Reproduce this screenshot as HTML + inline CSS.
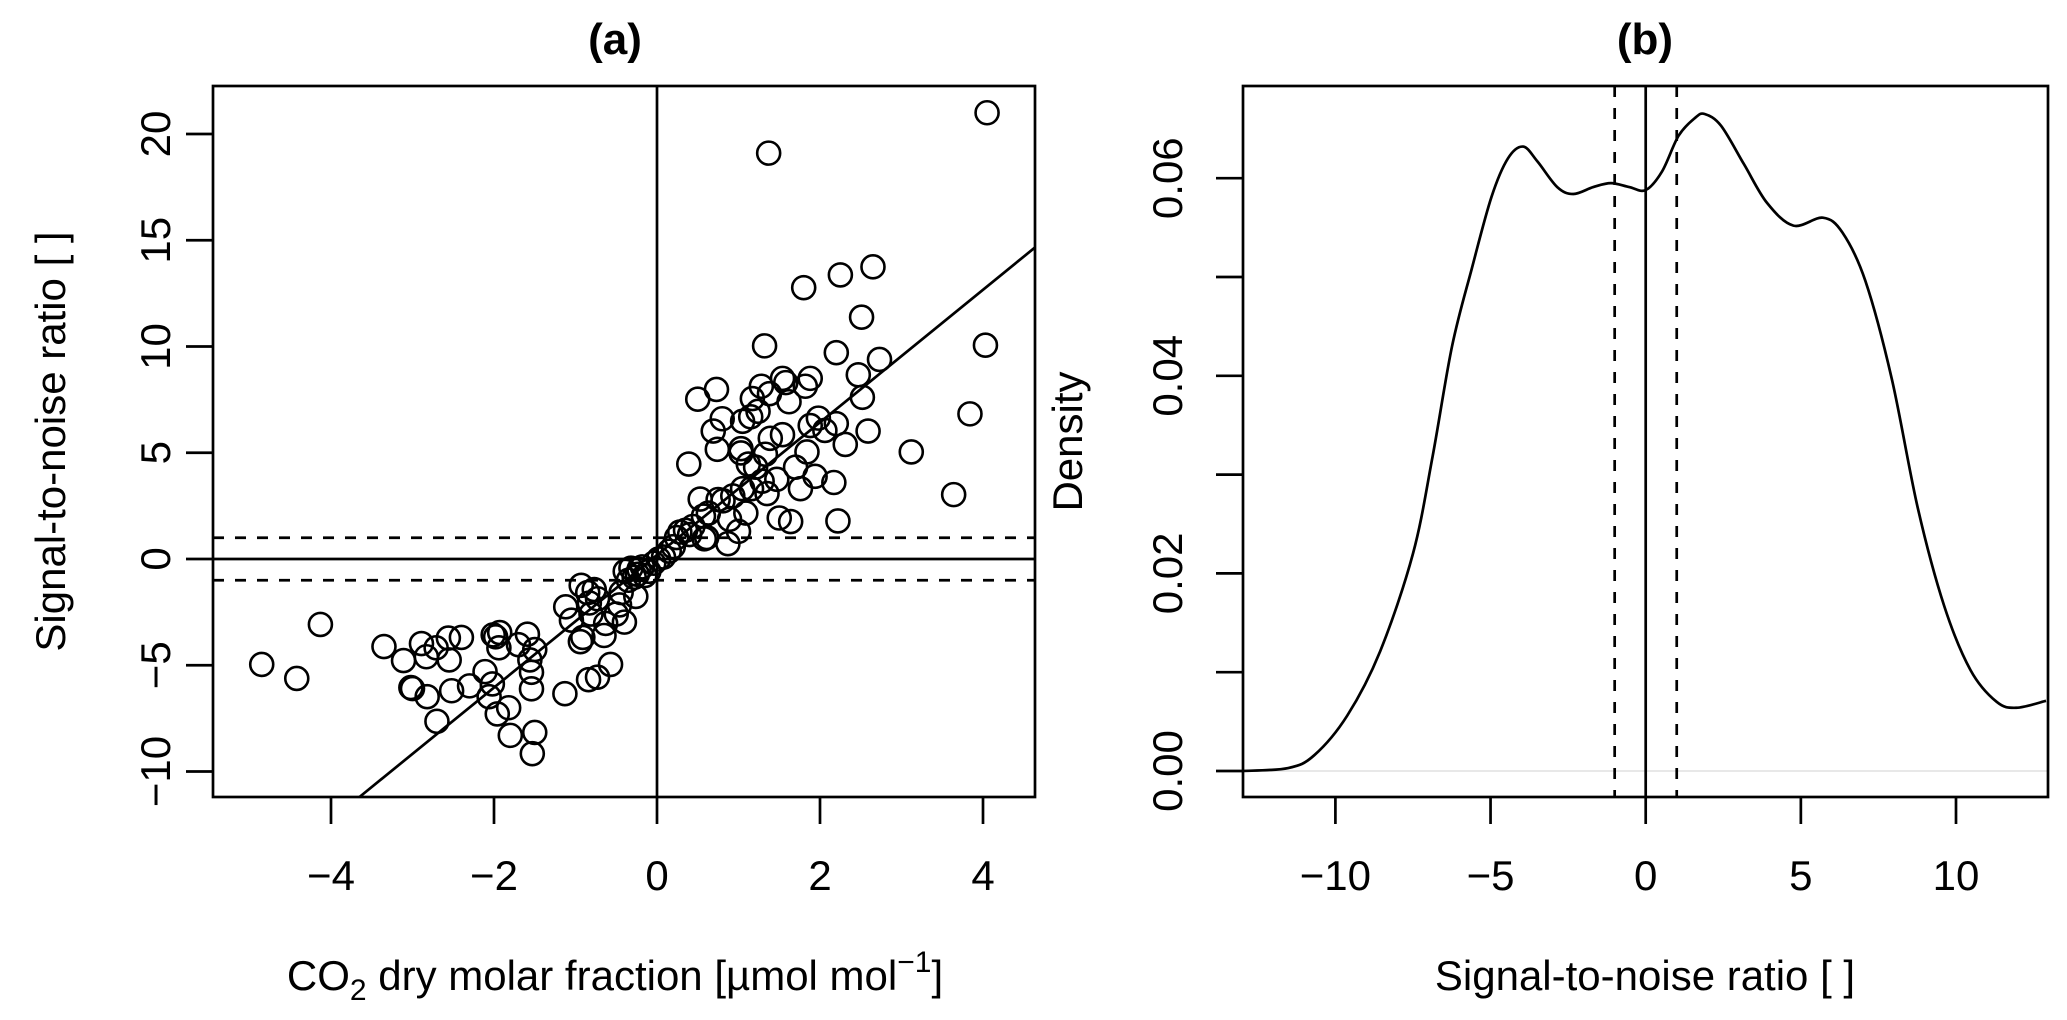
<!DOCTYPE html>
<html><head><meta charset="utf-8">
<style>
html,body{margin:0;padding:0;background:#fff;}
svg{display:block;font-family:"Liberation Sans",Arial,sans-serif;}
</style></head>
<body>
<svg id="chart" width="2067" height="1020" viewBox="0 0 2067 1020" xmlns="http://www.w3.org/2000/svg">
<g id="pa"></g>
<g id="pb"></g>
</svg>
<script>
// ---------- Panel (a) data ----------
const scatterX = [-4.85,-4.42,-4.13,-3.35,-3.11,-3.02,-3.0,-2.89,-2.83,-2.82,-2.71,-2.70,-2.56,-2.55,-2.52,-2.40,-2.30,-2.11,-2.06,-2.02,-2.01,-1.98,-1.94,-1.93,-1.96,-1.82,-1.80,-1.70,-1.59,-1.56,-1.50,-1.54,-1.54,-1.50,-1.53,-1.13,-1.12,-1.05,-0.93,-0.94,-0.91,-0.85,-0.83,-0.81,-0.84,-0.73,-0.77,-0.73,-0.65,-0.63,-0.57,-0.50,-0.46,-0.44,-0.40,-0.39,-0.35,-0.32,-0.28,-0.26,-0.24,-0.22,-0.18,-0.15,-0.10,-0.04,0.02,0.08,0.15,0.20,0.24,0.28,0.35,0.40,0.39,0.44,0.50,0.53,0.57,0.58,0.61,0.63,0.69,0.73,0.74,0.75,0.80,0.81,0.87,0.89,0.93,1.0,1.03,1.03,1.05,1.05,1.09,1.12,1.15,1.16,1.17,1.21,1.24,1.28,1.29,1.32,1.33,1.35,1.37,1.38,1.39,1.47,1.50,1.54,1.54,1.58,1.62,1.64,1.70,1.76,1.80,1.82,1.84,1.88,1.88,1.94,1.98,2.06,2.17,2.20,2.22,2.20,2.25,2.31,2.47,2.51,2.52,2.59,2.65,2.73,3.12,3.64,3.84,4.03,4.05];
const scatterY = [-4.96,-5.62,-3.08,-4.12,-4.78,-6.05,-6.1,-3.98,-4.6,-6.48,-4.18,-7.64,-3.72,-4.75,-6.2,-3.69,-5.97,-5.3,-6.48,-5.88,-3.57,-3.66,-4.18,-3.46,-7.29,-7.0,-8.3,-4.03,-3.54,-4.75,-4.26,-5.33,-6.11,-8.16,-9.16,-6.34,-2.25,-2.88,-1.24,-3.89,-3.69,-1.58,-2.07,-2.59,-5.68,-5.56,-1.44,-1.87,-3.6,-3.03,-4.96,-2.59,-2.16,-1.58,-2.97,-0.58,-1.0,-0.43,-0.86,-1.76,-0.72,-0.49,-0.37,-0.78,-0.58,-0.2,0.0,0.09,0.37,0.58,1.01,1.27,1.35,1.15,4.47,1.53,7.52,2.82,2.02,0.95,1.01,2.16,6.02,7.98,5.16,2.8,6.6,2.74,0.72,1.87,2.97,1.3,5.19,4.99,6.48,3.31,2.16,4.47,6.69,3.31,7.55,4.32,6.95,8.13,3.66,10.03,4.93,3.08,19.1,7.78,5.68,3.75,1.93,8.5,5.85,8.3,7.4,1.76,4.32,3.31,12.77,8.13,5.04,8.5,6.28,3.89,6.63,6.05,3.6,6.37,1.79,9.71,13.37,5.39,8.67,11.38,7.61,6.02,13.75,9.39,5.04,3.03,6.83,10.06,21.0];
const fitCoef = [0.19, 3.12]; // intercept, slope
const aXTicks = [-4,-2,0,2,4];
const aXTickLabels = ["\u22124","\u22122","0","2","4"];
const aYTicks = [-10,-5,0,5,10,15,20];
const aYTickLabels = ["\u221210","\u22125","0","5","10","15","20"];
const aHLines = [-1,1];

// ---------- Panel (b) data ----------
const densX = [-13,-11.52,-10.68,-9.62,-8.56,-7.5,-6.87,-6.24,-5.6,-4.97,-4.44,-3.95,-3.49,-2.85,-2.33,-1.69,-1.12,-0.53,0,0.53,1.06,1.59,1.9,2.43,3.17,3.91,4.76,5.71,6.34,7.08,7.93,8.77,9.62,10.47,11.31,11.95,12.9];
const densY = [0,0.0003,0.0016,0.0056,0.0121,0.022,0.0318,0.043,0.0509,0.0581,0.062,0.0632,0.0617,0.0591,0.0584,0.0591,0.0595,0.0591,0.0588,0.0607,0.0643,0.0661,0.0665,0.0653,0.0614,0.0575,0.0552,0.056,0.0545,0.0496,0.0397,0.0266,0.0167,0.0102,0.007,0.0064,0.0071];
const bXTicks = [-10,-5,0,5,10];
const bXTickLabels = ["\u221210","\u22125","0","5","10"];
const bYTicks = [0,0.01,0.02,0.03,0.04,0.05,0.06];
const bYTickLabels = ["0.00","","0.02","","0.04","","0.06"];
const bVLines = [-1,1];

const NS = "http://www.w3.org/2000/svg";
function mk(parent, tag, attrs, text){
  const e = document.createElementNS(NS, tag);
  for (const k in attrs) e.setAttribute(k, attrs[k]);
  if (text !== undefined) e.textContent = text;
  parent.appendChild(e);
  return e;
}
const SW = 2.7;

// Panel (a) scales
const A = {l:213, r:1035, t:86, b:797};
const ax = v => 657 + v*81.5;
const ay = v => 559 - v*21.25;
const pa = document.getElementById('pa');

let el = mk(pa,'text',{x:615, y:54, 'text-anchor':'middle','font-size':44,'font-weight':'bold'},'(a)');



el = mk(pa,'line',{x1:A.l,x2:A.r,y1:ay(0),y2:ay(0),stroke:'#000','stroke-width':SW});


el = mk(pa,'line',{x1:ax(0),x2:ax(0),y1:A.t,y2:A.b,stroke:'#000','stroke-width':SW});


aHLines.forEach(v=>{
  const l = mk(pa,'line',{x1:A.l,x2:A.r,y1:ay(v),y2:ay(v),stroke:'#000','stroke-width':SW,'stroke-dasharray':'11 11'});
  
  
});
{
  const yb = (559-A.b)/21.25, yt = (559-A.t)/21.25, xl=(A.l-657)/81.5, xr=(A.r-657)/81.5;
  let x1 = xl, y1 = fitCoef[0]+fitCoef[1]*x1;
  if (y1 < yb){ x1 = (yb-fitCoef[0])/fitCoef[1]; y1 = yb; }
  let x2 = xr, y2 = fitCoef[0]+fitCoef[1]*x2;
  if (y2 > yt){ x2 = (yt-fitCoef[0])/fitCoef[1]; y2 = yt; }
  const l = mk(pa,'line',{x1:ax(x1),y1:ay(y1),x2:ax(x2),y2:ay(y2),stroke:'#000','stroke-width':SW});
  
  
}
scatterX.forEach((x,i)=>{
  const c = mk(pa,'circle',{cx:ax(x),cy:ay(scatterY[i]),r:11.5,fill:'none',stroke:'#000','stroke-width':2.6});
  
  
});
el = mk(pa,'rect',{x:A.l,y:A.t,width:A.r-A.l,height:A.b-A.t,fill:'none',stroke:'#000','stroke-width':SW});


aXTicks.forEach((v,i)=>{
  const t = mk(pa,'line',{x1:ax(v),x2:ax(v),y1:A.b,y2:A.b+27,stroke:'#000','stroke-width':SW});
  
  
  const lb = mk(pa,'text',{x:ax(v),y:890,'text-anchor':'middle','font-size':42},aXTickLabels[i]);
  
  
});
aYTicks.forEach((v,i)=>{
  const t = mk(pa,'line',{x1:A.l-27,x2:A.l,y1:ay(v),y2:ay(v),stroke:'#000','stroke-width':SW});
  
  
  const lb = mk(pa,'text',{x:0,y:0,'text-anchor':'middle','font-size':42,transform:`translate(170,${ay(v)}) rotate(-90)`},aYTickLabels[i]);
  
  
});
el = mk(pa,'text',{x:0,y:0,'text-anchor':'middle','font-size':42,transform:`translate(65,${(A.t+A.b)/2}) rotate(-90)`},'Signal-to-noise ratio [ ]');


{
  const t = mk(pa,'text',{x:615,y:990,'text-anchor':'middle','font-size':42});
  
  
  t.innerHTML = 'CO<tspan font-size="30" dy="10">2</tspan><tspan dy="-10"> dry molar fraction [µmol mol</tspan><tspan font-size="30" dy="-18">\u22121</tspan><tspan dy="18">]</tspan>';
}

// Panel (b)
const B = {l:1243, r:2048, t:86, b:797};
const bx = v => 1645.7 + v*31.03;
const by = v => 771 - v*9880;
const pb = document.getElementById('pb');
el = mk(pb,'text',{x:1645,y:54,'text-anchor':'middle','font-size':44,'font-weight':'bold'},'(b)');


el = mk(pb,'line',{x1:B.l,x2:B.r,y1:by(0),y2:by(0),stroke:'#e0e0e0','stroke-width':1.5});


el = mk(pb,'line',{x1:bx(0),x2:bx(0),y1:B.t,y2:B.b,stroke:'#000','stroke-width':SW});


bVLines.forEach(v=>{
  const l = mk(pb,'line',{x1:bx(v),x2:bx(v),y1:B.t,y2:B.b,stroke:'#000','stroke-width':SW,'stroke-dasharray':'11 11'});
  
  
});
{
  const P = densX.map((x,i)=>[bx(x),by(densY[i])]);
  let d = `M${P[0][0]},${P[0][1]}`;
  for (let i=0;i<P.length-1;i++){
    const p0=P[Math.max(i-1,0)], p1=P[i], p2=P[i+1], p3=P[Math.min(i+2,P.length-1)];
    const c1=[p1[0]+(p2[0]-p0[0])/6, p1[1]+(p2[1]-p0[1])/6];
    const c2=[p2[0]-(p3[0]-p1[0])/6, p2[1]-(p3[1]-p1[1])/6];
    d += ` C${c1[0]},${c1[1]} ${c2[0]},${c2[1]} ${p2[0]},${p2[1]}`;
  }
  const p = mk(pb,'path',{d:d,fill:'none',stroke:'#000','stroke-width':SW});
  
  
}
el = mk(pb,'rect',{x:B.l,y:B.t,width:B.r-B.l,height:B.b-B.t,fill:'none',stroke:'#000','stroke-width':SW});


bXTicks.forEach((v,i)=>{
  const t = mk(pb,'line',{x1:bx(v),x2:bx(v),y1:B.b,y2:B.b+27,stroke:'#000','stroke-width':SW});
  
  
  const lb = mk(pb,'text',{x:bx(v),y:890,'text-anchor':'middle','font-size':42},bXTickLabels[i]);
  
  
});
bYTicks.forEach((v,i)=>{
  const t = mk(pb,'line',{x1:B.l-27,x2:B.l,y1:by(v),y2:by(v),stroke:'#000','stroke-width':SW});
  
  
  if (bYTickLabels[i]){
    const lb = mk(pb,'text',{x:0,y:0,'text-anchor':'middle','font-size':42,transform:`translate(1182,${by(v)}) rotate(-90)`},bYTickLabels[i]);
    
    
  }
});
el = mk(pb,'text',{x:0,y:0,'text-anchor':'middle','font-size':42,transform:`translate(1082,${(B.t+B.b)/2}) rotate(-90)`},'Density');


el = mk(pb,'text',{x:1645,y:990,'text-anchor':'middle','font-size':42},'Signal-to-noise ratio [ ]');


</script>
</body></html>
